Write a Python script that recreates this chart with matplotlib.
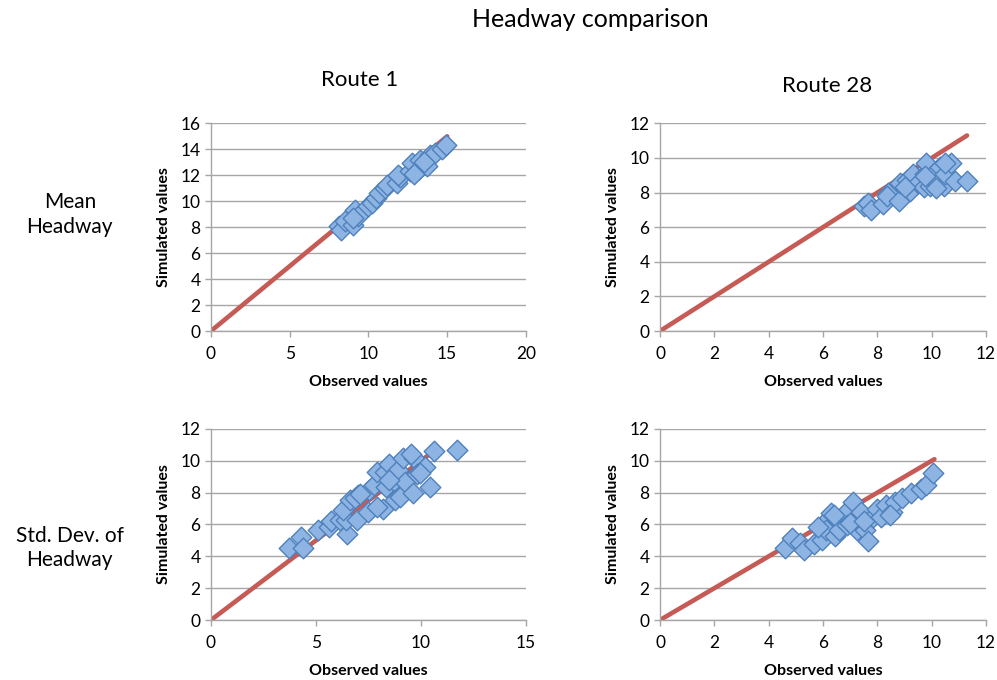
import numpy as np
import matplotlib
matplotlib.use("Agg")
import matplotlib.pyplot as plt

plt.rcParams['font.family'] = ['Lato', 'DejaVu Sans']

# mean headway, route 1 (observed, simulated)
r1_mean_obs = [8.1, 8.25, 8.5, 9.05, 9.15, 9.35, 9.05, 10.0, 10.2, 10.45, 10.65, 11.05, 11.2,
               11.8, 12.0, 11.9, 12.65, 12.75, 13.2, 13.3, 13.7, 13.9, 14.25, 14.65, 14.9, 12.9, 13.5]
r1_mean_sim = [8.1, 7.8, 8.5, 8.2, 9.3, 8.85, 8.7, 9.65, 9.9, 10.25, 10.65, 11.0, 11.25,
               11.4, 11.9, 12.05, 12.3, 12.95, 12.45, 13.2, 12.7, 13.6, 13.75, 14.0, 14.3, 12.1, 13.0]
r1_mean_line = [0, 15]

# mean headway, route 28
r28_mean_obs = [7.5, 7.65, 7.75, 8.2, 8.4, 8.35, 8.8, 8.85, 9.1, 9.2, 9.3, 9.5, 9.7, 9.75, 9.8,
                9.95, 10.05, 10.2, 10.3, 10.45, 10.5, 10.7, 10.85, 11.3, 9.75, 10.15, 10.5, 9.0]
r28_mean_sim = [7.2, 7.4, 7.0, 7.35, 7.95, 7.8, 7.5, 8.55, 8.75, 8.1, 9.05, 8.55, 8.35, 9.05, 9.7,
                8.4, 9.05, 8.55, 9.5, 8.4, 9.05, 9.7, 8.65, 8.65, 8.95, 8.25, 9.7, 8.3]
r28_mean_line = [0, 11.3]

# std. dev. of headway, route 1
r1_sd_obs = [3.7, 4.3, 4.4, 5.1, 5.6, 5.7, 6.15, 6.5, 6.45, 6.3, 6.6, 6.95, 7.0, 7.5, 7.55, 7.75,
             7.9, 8.2, 8.3, 8.35, 8.5, 8.7, 8.75, 8.9, 9.0, 9.25, 9.15, 9.6, 9.65, 9.55, 9.8,
             10.2, 10.45, 10.6, 11.7, 6.85, 7.1, 7.9, 8.5, 9.95]
r1_sd_sim = [4.55, 5.2, 4.5, 5.65, 5.85, 6.2, 6.3, 5.4, 6.3, 6.9, 7.55, 6.3, 7.85, 6.8, 8.15, 8.5,
             9.3, 7.0, 9.3, 8.35, 9.8, 8.7, 7.55, 9.4, 7.75, 8.65, 10.15, 7.95, 10.15, 10.45, 9.2,
             9.6, 8.35, 10.6, 10.65, 7.65, 7.9, 7.1, 8.8, 9.25]
r1_sd_line = [0, 10.5]

# std. dev. of headway, route 28
r28_sd_obs = [4.6, 4.85, 5.15, 5.3, 5.65, 5.95, 6.0, 6.1, 6.3, 6.45, 6.6, 6.8, 6.9, 7.1, 7.25,
              7.3, 7.4, 7.55, 7.65, 7.85, 8.0, 8.15, 8.3, 8.55, 8.65, 8.9, 9.25, 9.6, 9.8, 10.05,
              5.8, 6.4, 7.0, 7.5, 8.45]
r28_sd_sim = [4.55, 5.15, 4.85, 4.4, 4.8, 5.0, 6.05, 5.65, 6.7, 5.25, 5.65, 6.7, 5.95, 7.4, 5.65,
              6.4, 6.8, 5.65, 4.95, 6.5, 7.0, 6.5, 7.2, 6.8, 7.4, 7.65, 7.95, 8.25, 8.5, 9.25,
              5.85, 6.6, 6.1, 6.2, 6.6]
r28_sd_line = [0, 10.1]

panels = [
    (r1_mean_obs, r1_mean_sim, r1_mean_line, 20, 5, 16, 2),
    (r28_mean_obs, r28_mean_sim, r28_mean_line, 12, 2, 12, 2),
    (r1_sd_obs, r1_sd_sim, r1_sd_line, 15, 5, 12, 2),
    (r28_sd_obs, r28_sd_sim, r28_sd_line, 12, 2, 12, 2),
]
rects = [
    [0.2116, 0.5132, 0.3159, 0.3054],
    [0.662, 0.5132, 0.327, 0.3054],
    [0.2116, 0.0882, 0.3159, 0.281],
    [0.662, 0.0882, 0.327, 0.281],
]

fig = plt.figure(figsize=(9.97, 6.8), dpi=100)

for (obs, sim, line, xmax, xstep, ymax, ystep), rect in zip(panels, rects):
    ax = fig.add_axes(rect)
    ax.plot(line, line, color='#C65A55', lw=3.3, solid_capstyle='round', zorder=2)
    ax.scatter(obs, sim, marker='D', s=110, facecolor='#8DB4E2', edgecolor='#4F81BD',
               linewidth=1.0, zorder=3, clip_on=False)
    ax.set_xlim(0, xmax)
    ax.set_ylim(0, ymax)
    ax.set_xticks(np.arange(0, xmax + 0.1, xstep))
    ax.set_yticks(np.arange(0, ymax + 0.1, ystep))
    ax.yaxis.grid(True, color='#A6A6A6', lw=1.0)
    ax.set_axisbelow(True)
    for s in ['top', 'right']:
        ax.spines[s].set_visible(False)
    for s in ['left', 'bottom']:
        ax.spines[s].set_color('#A6A6A6')
        ax.spines[s].set_linewidth(1.0)
    ax.tick_params(axis='both', colors='#A6A6A6', labelcolor='black', labelsize=12.5,
                   length=4, width=1.0, direction='out')
    ax.tick_params(axis='x', pad=7)
    ax.set_xlabel('Observed values', fontsize=11.5, fontweight='bold', labelpad=9)
    ax.set_ylabel('Simulated values', fontsize=11.5, fontweight='bold', labelpad=7)

fig.text(0.592, 0.971, 'Headway comparison', ha='center', va='center', fontsize=18)
fig.text(0.361, 0.882, 'Route 1', ha='center', va='center', fontsize=16)
fig.text(0.8295, 0.874, 'Route 28', ha='center', va='center', fontsize=16)
fig.text(0.070, 0.684, 'Mean\nHeadway', ha='center', va='center', fontsize=15, linespacing=1.3)
fig.text(0.070, 0.194, 'Std. Dev. of\nHeadway', ha='center', va='center', fontsize=15, linespacing=1.3)

fig.savefig('out.png', dpi=100)
